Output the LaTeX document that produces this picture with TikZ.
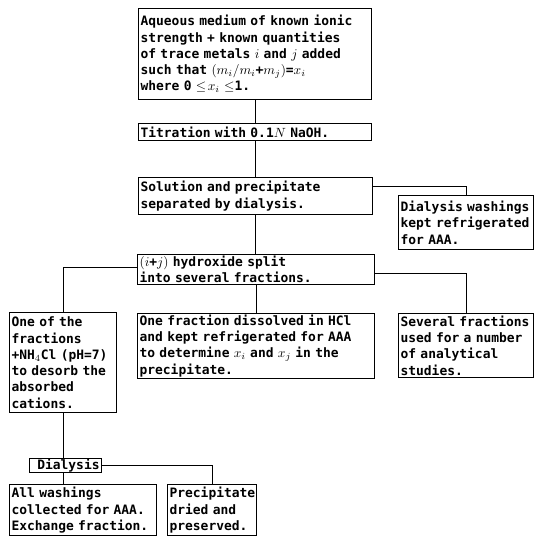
\documentclass[tikz,border=0pt]{standalone}
\usepackage{amsmath}
\usepackage{amssymb}
\usepackage{fontspec}
\newfontfamily\boxfont{DejaVu Sans Mono}
\usepackage{tikz}

\begin{document}
\begin{tikzpicture}[x=0.75pt, y=-0.75pt,
  box/.style={draw, line width=0.9pt, anchor=north west, align=left,
    inner xsep=1.5pt, inner ysep=1pt,
    font=\boxfont\bfseries\fontsize{9.7}{12.2}\selectfont},
  link/.style={line width=0.9pt}]
\useasboundingbox (0,0) rectangle (534,536);

\node[box, text width=171.75pt, minimum height=68.25pt] (aqueous) at (138,8)
  {Aqueous medium of known ionic\\strength + known quantities\\of trace metals $i$ and $j$ added\\such that $(m_i/m_i$+$m_j)$=$x_i$\\where 0 $\leq\!x_i$ $\leq$1.};
\node[box, text width=171.75pt, minimum height=12.75pt] (titration) at (138,123)
  {Titration with 0.1$N$ NaOH.};
\node[box, text width=172.5pt, minimum height=27.75pt] (solution) at (138,177)
  {Solution and precipitate\\separated by dialysis.};
\node[box, text width=98.25pt, minimum height=40.5pt] (dialwash) at (398,195)
  {Dialysis washings\\kept refrigerated\\for AAA.};
\node[box, text width=174.75pt, minimum height=21.75pt] (hydroxide) at (137,254)
  {$(i$+$j)$ hydroxide split\\into several fractions.};
\node[box, text width=77.25pt, minimum height=75pt] (oneof) at (9,312)
  {One of the\\fractions\\+NH$_4$Cl (pH=7)\\to desorb the\\absorbed\\cations.};
\node[box, text width=174.75pt, minimum height=42.75pt] (dissolved) at (137,313)
  {One fraction dissolved in HCl\\and kept refrigerated for AAA\\to determine $x_i$ and $x_j$ in the\\precipitate.};
\node[box, text width=98.25pt, minimum height=48pt] (several) at (398,313)
  {Several fractions\\used for a number\\of analytical\\studies.};
\node[box, align=right, text width=51pt, minimum height=10.5pt, inner ysep=0.3pt] (dialysis) at (29,458)
  {Dialysis};
\node[box, text width=107.25pt, minimum height=38.25pt] (washings) at (9,484)
  {All washings\\collected for AAA.\\Exchange fraction.};
\node[box, text width=63.75pt, minimum height=38.25pt] (precip) at (167,484)
  {Precipitate\\dried and\\preserved.};

\draw[link] (aqueous.south) -- (titration.north);
\draw[link] (titration.south) -- (titration.south |- solution.north);
\draw[link] (solution.south) -- (solution.south |- hydroxide.north);
\draw[link] ([yshift=7pt]solution.east) -| (dialwash.north);
\draw[link] ([yshift=1.5pt]hydroxide.west) -| (oneof.north);
\draw[link] (hydroxide.south) -- (hydroxide.south |- dissolved.north);
\draw[link] ([yshift=-3pt]hydroxide.east) -| (several.north);
\draw[link] (oneof.south) -- (oneof.south |- dialysis.north);
\draw[link] (oneof.south |- dialysis.south) -- (oneof.south |- washings.north);
\draw[link] (dialysis.east) -| (precip.north);
\end{tikzpicture}
\end{document}
